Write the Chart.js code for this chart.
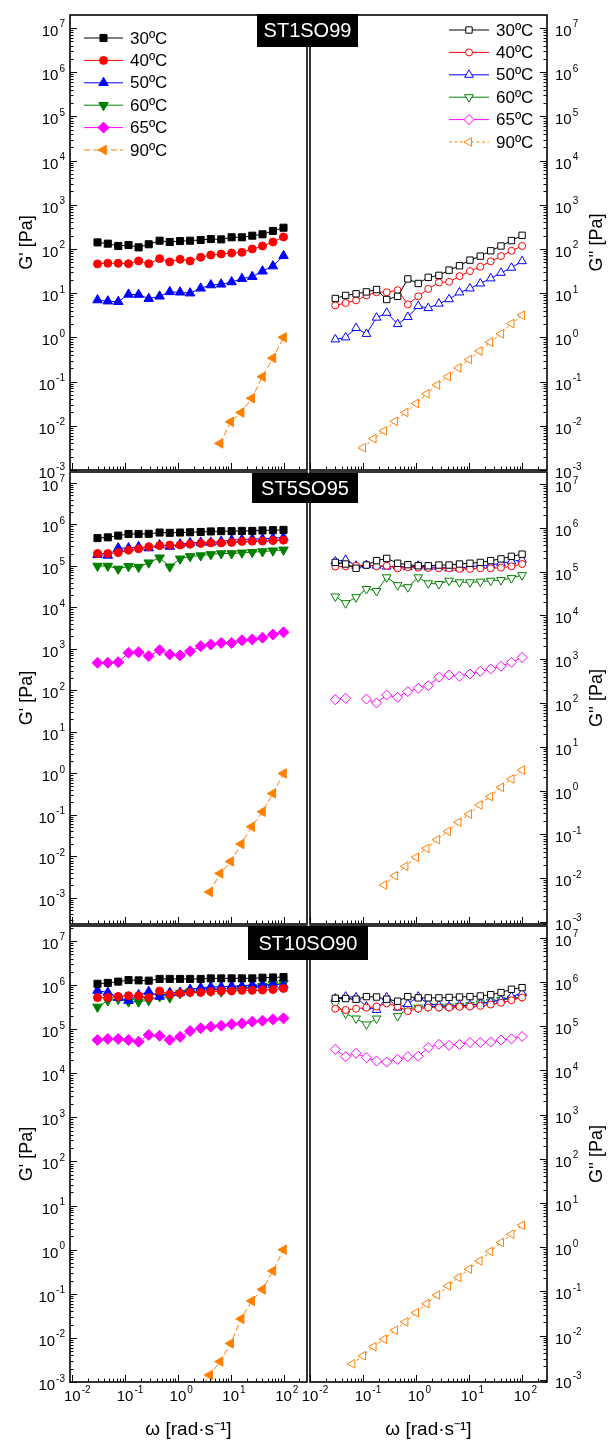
<!DOCTYPE html>
<html>
<head>
<meta charset="utf-8">
<script src="https://cdn.jsdelivr.net/npm/chart.js"></script>
<style>
  html, body { margin: 0; padding: 0; background: #fff; }
  #wrap { position: relative; width: 608px; height: 1444px; }
  #wrap canvas { position: absolute; left: 0; top: 0; }
</style>
</head>
<body>
<div id="wrap">
  <canvas id="c0" width="608" height="1444"></canvas>
  <canvas id="c1" width="608" height="1444"></canvas>
  <canvas id="c2" width="608" height="1444"></canvas>
  <canvas id="c3" width="608" height="1444"></canvas>
  <canvas id="c4" width="608" height="1444"></canvas>
  <canvas id="c5" width="608" height="1444"></canvas>
</div>
<script>
// ---- data ----
const temps = ['30ºC', '40ºC', '50ºC', '60ºC', '65ºC', '90ºC'];
const samples = ['ST1SO99', 'ST5SO95', 'ST10SO90'];

// angular frequency [rad/s]
const freq = [0.03, 0.047, 0.074, 0.116, 0.18, 0.28, 0.45, 0.7, 1.1, 1.7, 2.7, 4.2, 6.6, 10.4, 16.3, 25.6, 40, 63, 100];
const freq90 = [0.063, 0.1, 0.158, 0.25, 0.4, 0.63, 1, 1.58, 2.5, 4, 6.3, 10, 15.8, 25, 40, 63, 100];

// tick values and their labels (base 10, exponent as superscript)
const xTickVals = [1e-2, 1e-1, 1, 10, 100];
const xTickExps = ['-2', '-1', '0', '1', '2'];
const yTickVals = [1e-3, 1e-2, 1e-1, 1, 10, 100, 1e3, 1e4, 1e5, 1e6, 1e7];
const yTickExps = ['-3', '-2', '-1', '0', '1', '2', '3', '4', '5', '6', '7'];

// ST1SO99  G'
const st1Gp30 = [141, 132, 117, 123, 109, 128, 154, 144, 151, 154, 160, 168, 165, 184, 184, 200, 215, 256, 303];
const st1Gp40 = [46, 47.6, 47.6, 46.5, 53.6, 46.5, 60.5, 51, 58.5, 53.6, 65, 73, 77, 81, 84, 100, 117, 144, 187];
const st1Gp50 = [7.0, 6.6, 6.4, 9.4, 9.3, 7.5, 8.5, 10.7, 10.5, 10, 12.9, 15.3, 15.9, 17.9, 21.3, 23.6, 31.4, 41, 70];
const st1Gp90 = [null, null, null, null, null, null, null, null, null, null, 0.004, 0.0123, 0.02, 0.042, 0.129, 0.34, 1.0];
// ST1SO99  G''
const st1Gpp30 = [7.6, 8.9, 9.7, 10.7, 12.1, 7.2, 8.5, 21, 16.6, 22.8, 25.3, 33.2, 41.8, 56, 69, 91, 117, 155, 204];
const st1Gpp40 = [5.3, 6.0, 6.9, 8.9, 10.5, 10.5, 11.7, 5.6, 8.5, 12.5, 17.5, 18.1, 24.3, 31.6, 39.6, 52.6, 69, 91, 117];
const st1Gpp50 = [0.9, 1.0, 1.63, 1.2, 2.8, 3.6, 2.0, 2.9, 5.1, 4.6, 5.8, 7.3, 10.4, 12.8, 16.6, 21.6, 28.9, 37.6, 53];
const st1Gpp90 = [null, 0.0032, 0.0051, 0.0077, 0.0126, 0.020, 0.032, 0.053, 0.084, 0.13, 0.204, 0.316, 0.49, 0.78, 1.21, 2.05, 3.16];

// ST5SO95  G'
const st5Gp30 = [4.7e5, 4.9e5, 5.4e5, 5.9e5, 5.9e5, 5.96e5, 6.4e5, 6.3e5, 6.4e5, 6.5e5, 6.6e5, 6.8e5, 6.9e5, 6.9e5, 7.0e5, 7.0e5, 7.2e5, 7.3e5, 7.4e5];
const st5Gp40 = [2.0e5, 2.0e5, 2.1e5, 2.4e5, 2.6e5, 2.9e5, 3.1e5, 3.2e5, 3.2e5, 3.35e5, 3.5e5, 3.6e5, 3.6e5, 3.7e5, 3.9e5, 3.95e5, 4.0e5, 4.1e5, 4.2e5];
const st5Gp50 = [1.86e5, 1.8e5, 2.7e5, 2.7e5, 2.9e5, 2.7e5, 3.2e5, 2.95e5, 3.35e5, 3.6e5, 3.7e5, 3.7e5, 3.9e5, 4.2e5, 4.35e5, 4.5e5, 4.5e5, 4.7e5, 4.9e5];
const st5Gp60 = [1.0e5, 1.0e5, 8.5e4, 9.8e4, 9.4e4, 1.2e5, 1.58e5, 9.6e4, 1.49e5, 1.7e5, 1.78e5, 1.9e5, 2.0e5, 2.0e5, 2.08e5, 2.15e5, 2.23e5, 2.33e5, 2.45e5];
const st5Gp65 = [465, 465, 480, 810, 835, 675, 935, 740, 700, 880, 1170, 1280, 1400, 1400, 1620, 1700, 1870, 2230, 2520];
const st5Gp90 = [null, null, null, null, null, null, null, null, null, 0.0014, 0.0039, 0.0076, 0.020, 0.052, 0.12, 0.33, 1.0];
// ST5SO95  G''
const st5Gpp30 = [1.62e5, 1.49e5, 1.19e5, 1.41e5, 1.78e5, 2.0e5, 1.55e5, 1.44e5, 1.36e5, 1.36e5, 1.41e5, 1.41e5, 1.49e5, 1.55e5, 1.62e5, 1.78e5, 1.95e5, 2.23e5, 2.5e5];
const st5Gpp40 = [1.3e5, 1.32e5, 1.36e5, 1.41e5, 1.32e5, 1.36e5, 1.19e5, 1.26e5, 1.23e5, 1.21e5, 1.19e5, 1.19e5, 1.15e5, 1.15e5, 1.19e5, 1.19e5, 1.23e5, 1.32e5, 1.49e5];
const st5Gpp50 = [1.7e5, 1.86e5, 1.36e5, 1.41e5, 1.36e5, 1.3e5, 1.32e5, 1.26e5, 1.36e5, 1.26e5, 1.26e5, 1.19e5, 1.19e5, 1.3e5, 1.36e5, 1.41e5, 1.55e5, 1.7e5, 1.86e5];
const st5Gpp60 = [2.7e4, 1.9e4, 2.6e4, 4.0e4, 3.6e4, 7.4e4, 4.9e4, 4.4e4, 7.4e4, 5.4e4, 5.2e4, 6.2e4, 5.7e4, 5.7e4, 5.9e4, 6.2e4, 6.4e4, 7.1e4, 8.3e4];
const st5Gpp65 = [119, 128, null, 123, 100, 152, 135, 182, 216, 248, 387, 435, 408, 460, 530, 600, 690, 850, 1100];
const st5Gpp90 = [null, null, null, 0.007, 0.0114, 0.0187, 0.030, 0.048, 0.076, 0.117, 0.19, 0.29, 0.47, 0.73, 1.19, 1.84, 2.95];

// ST10SO90  G'
const st10Gp30 = [1.07e6, 1.12e6, 1.2e6, 1.3e6, 1.28e6, 1.26e6, 1.38e6, 1.38e6, 1.38e6, 1.38e6, 1.38e6, 1.42e6, 1.42e6, 1.42e6, 1.42e6, 1.42e6, 1.47e6, 1.49e6, 1.52e6];
const st10Gp40 = [5.2e5, 5.2e5, 5.5e5, 5.75e5, 5.75e5, 5.2e5, 7.35e5, 6.2e5, 6.5e5, 6.8e5, 6.8e5, 7.1e5, 7.35e5, 7.35e5, 7.6e5, 7.6e5, 7.7e5, 7.95e5, 8.4e5];
const st10Gp50 = [7.5e5, 6.8e5, 5.2e5, 4.45e5, 6.0e5, 7.1e5, 5.5e5, 6.7e5, 6.8e5, 7.95e5, 8.7e5, 9.1e5, 9.1e5, 9.5e5, 9.5e5, 1.0e6, 1.0e6, 1.04e6, 1.0e6];
const st10Gp60 = [3.2e5, 4.45e5, 4.8e5, 4.2e5, 4.2e5, 4.5e5, 5.5e5, 5.2e5, 6.5e5, 7.1e5, 7.35e5, 7.35e5, 7.1e5, 7.95e5, 8.4e5, 8.7e5, 9.5e5, 1.04e6, 1.1e6];
const st10Gp65 = [5.7e4, 6.0e4, 6.0e4, 5.7e4, 5.2e4, 7.4e4, 7.1e4, 5.7e4, 6.7e4, 9.1e4, 1.05e5, 1.14e5, 1.2e5, 1.29e5, 1.35e5, 1.48e5, 1.56e5, 1.67e5, 1.76e5];
const st10Gp90 = [null, null, null, null, null, null, null, null, 0.0006, 0.00144, 0.0029, 0.0075, 0.027, 0.069, 0.126, 0.33, 1.0];
// ST10SO90  G''
const st10Gpp30 = [4.3e5, 4.25e5, 4.1e5, 4.7e5, 4.6e5, 4.1e5, 3.7e5, 4.7e5, 4.4e5, 4.4e5, 4.4e5, 4.5e5, 4.6e5, 4.7e5, 4.85e5, 5.2e5, 5.8e5, 6.9e5, 7.5e5];
const st10Gpp40 = [2.5e5, 2.35e5, 2.5e5, 2.65e5, 2.8e5, 3.3e5, 2.8e5, 2.2e5, 2.5e5, 2.65e5, 2.65e5, 2.65e5, 2.75e5, 2.8e5, 2.9e5, 3.1e5, 3.4e5, 3.9e5, 4.5e5];
const st10Gpp50 = [4.25e5, 4.7e5, 4.5e5, 2.8e5, 2.35e5, 4.5e5, 2.65e5, 3.2e5, 4.7e5, 3.2e5, 3.0e5, 2.8e5, 3.0e5, 3.0e5, 3.2e5, 3.6e5, 3.9e5, 4.7e5, 5.6e5];
const st10Gpp60 = [3.25e5, 1.95e5, 1.5e5, 1.1e5, 1.5e5, null, 1.7e5, 2.5e5, 2.65e5, 2.8e5, 2.8e5, 2.8e5, 2.9e5, 3.0e5, 3.3e5, 3.6e5, 3.9e5, 4.25e5, 4.7e5];
const st10Gpp65 = [3.0e4, 2.05e4, 2.45e4, 1.95e4, 1.64e4, 1.55e4, 1.78e4, 2.05e4, 2.1e4, 3.3e4, 3.9e4, 3.7e4, 3.9e4, 4.3e4, 4.3e4, 4.4e4, 4.9e4, 5.2e4, 5.9e4];
const st10Gpp90 = [0.0023, 0.0035, 0.0056, 0.0083, 0.0132, 0.0204, 0.033, 0.053, 0.083, 0.133, 0.206, 0.32, 0.49, 0.80, 1.28, 1.97, 3.15];

// ---- styling ----
const FONT = '"Liberation Sans", Arial, sans-serif';
Chart.defaults.font.family = FONT;
Chart.defaults.color = '#000';

const markers = [
  { color: '#000000', shape: 'rect', r: 5, rot: 0 },
  { color: '#ff0000', shape: 'circle', r: 4, rot: 0 },
  { color: '#0000ff', shape: 'triangle', r: 5.5, rot: 0 },
  { color: '#008000', shape: 'triangle', r: 5.5, rot: 180 },
  { color: '#ff00ff', shape: 'rectRot', r: 5.5, rot: 0 },
  { color: '#ff8000', shape: 'triangle', r: 5.5, rot: 270 }
];

function makeSets(series, open) {
  return series.map(([xs, ys], i) => {
    const m = markers[i];
    return {
      label: temps[i],
      data: ys.map((y, k) => ({ x: xs[k], y: y })),
      borderColor: m.color,
      borderWidth: 1,
      borderDash: i === 5 ? (open ? [3, 2.5] : [6, 3]) : [],
      pointStyle: m.shape,
      pointRotation: m.rot,
      pointRadius: open ? m.r - 0.5 : m.r,
      pointBorderWidth: 1,
      pointBorderColor: m.color,
      pointBackgroundColor: open ? '#ffffff' : m.color,
      tension: 0,
      spanGaps: false
    };
  });
}

// "10" with a raised exponent; align = 'left' | 'right' | 'center' (center = centre of "10")
function powerLabel(ctx, exp, x, y, align) {
  ctx.font = '15px ' + FONT;
  const wb = ctx.measureText('10').width;
  ctx.font = '10px ' + FONT;
  const we = ctx.measureText(exp).width;
  let x0 = x;
  if (align === 'right') x0 = x - wb - we - 1;
  if (align === 'center') x0 = x - wb / 2;
  ctx.textAlign = 'left';
  ctx.textBaseline = 'alphabetic';
  ctx.font = '15px ' + FONT;
  ctx.fillText('10', x0, y + 8);
  ctx.font = '10px ' + FONT;
  ctx.fillText(exp, x0 + wb + 1, y - 0.5);
}

// frame, inward ticks, tick labels, legend, sample label, right-hand title
const deco = {
  id: 'deco',
  afterDraw(chart, args, o) {
    const { ctx, chartArea: a } = chart;
    const xs = chart.scales.x, ys = chart.scales.y;
    const left = o.side === 'left';
    ctx.save();
    ctx.strokeStyle = '#000';
    ctx.lineWidth = 1;
    ctx.beginPath();
    for (let d = -4; d <= 7; d++) {
      for (let k = 1; k <= 9; k++) {
        const v = k * Math.pow(10, d);
        const len = k === 1 ? 7 : 3.5;
        if (v >= ys.min && v <= ys.max) {
          const py = Math.round(ys.getPixelForValue(v)) + 0.5;
          const x0 = left ? a.left : a.right;
          ctx.moveTo(x0, py);
          ctx.lineTo(left ? x0 + len : x0 - len, py);
        }
        if (v >= xs.min && v <= xs.max) {
          const px = Math.round(xs.getPixelForValue(v)) + 0.5;
          ctx.moveTo(px, a.bottom);
          ctx.lineTo(px, a.bottom - len);
        }
      }
    }
    ctx.stroke();
    ctx.lineWidth = 1.6;
    ctx.strokeRect(a.left, a.top, a.right - a.left, a.bottom - a.top);

    // tick labels
    ctx.fillStyle = '#000';
    yTickVals.forEach((v, i) => {
      const py = ys.getPixelForValue(v);
      if (left) powerLabel(ctx, yTickExps[i], a.left - 5, py, 'right');
      else powerLabel(ctx, yTickExps[i], a.right + 8, py, 'left');
    });
    if (o.showX) {
      xTickVals.forEach((v, i) => {
        powerLabel(ctx, xTickExps[i], xs.getPixelForValue(v), a.bottom + 11, 'center');
      });
    }

    if (o.legend) {
      const L = o.legend;
      chart.data.datasets.forEach((ds, i) => {
        const y = L.y + i * L.dy;
        ctx.strokeStyle = ds.borderColor;
        ctx.lineWidth = 1;
        ctx.setLineDash(ds.borderDash);
        ctx.beginPath();
        ctx.moveTo(L.x, y);
        ctx.lineTo(L.x + L.len, y);
        ctx.stroke();
        ctx.setLineDash([]);
        ctx.fillStyle = ds.pointBackgroundColor;
        ctx.strokeStyle = ds.pointBorderColor;
        Chart.helpers.drawPoint(ctx, { pointStyle: ds.pointStyle, rotation: ds.pointRotation, radius: ds.pointRadius, borderWidth: 1 }, L.x + L.len / 2, y);
        ctx.fillStyle = '#000';
        ctx.font = '17px ' + FONT;
        ctx.textAlign = 'left';
        ctx.textBaseline = 'middle';
        ctx.fillText(ds.label, L.x + L.len + 7, y + 1);
      });
    }

    if (o.label) {
      const b = o.label;
      ctx.fillStyle = '#000';
      ctx.fillRect(b.x, b.y, b.w, b.h);
      ctx.fillStyle = '#fff';
      ctx.font = '20px ' + FONT;
      ctx.textAlign = 'center';
      ctx.textBaseline = 'middle';
      ctx.fillText(b.text, b.x + b.w / 2, b.y + b.h / 2 + 1);
    }

    if (o.rtitle) {
      ctx.translate(597, (a.top + a.bottom) / 2);
      ctx.rotate(-Math.PI / 2);
      ctx.fillStyle = '#000';
      ctx.font = '18px ' + FONT;
      ctx.textAlign = 'center';
      ctx.textBaseline = 'middle';
      ctx.fillText(o.rtitle, 0, 0);
    }
    ctx.restore();
  }
};

function makePanel(p) {
  const left = p.side === 'left';
  const xh = p.showX ? 62 : 0;
  const xLog = left ? [-2.044, 2.445] : [-2.0, 2.47];
  return new Chart(document.getElementById(p.id), {
    type: 'line',
    data: { datasets: makeSets(p.series, !left) },
    options: {
      responsive: false,
      animation: false,
      devicePixelRatio: 1,
      layout: {
        padding: {
          left: left ? 0 : 310,
          right: left ? 301 : 0,
          top: p.top,
          bottom: 1444 - p.bottom - xh
        }
      },
      plugins: {
        legend: { display: false },
        tooltip: { enabled: false },
        deco: { side: p.side, showX: p.showX, legend: p.legend, label: p.label, rtitle: left ? null : "G'' [Pa]" }
      },
      scales: {
        x: {
          type: 'logarithmic',
          position: 'bottom',
          min: Math.pow(10, xLog[0]),
          max: Math.pow(10, xLog[1]),
          grid: { display: false },
          border: { display: false },
          afterBuildTicks: s => { s.ticks = xTickVals.map(v => ({ value: v })); },
          afterFit: s => { s.height = xh; },
          ticks: { display: false },
          title: {
            display: p.showX,
            text: 'ω [rad·s⁻¹]',
            font: { size: 19 },
            padding: { top: 0, bottom: 3 }
          }
        },
        y: {
          type: 'logarithmic',
          position: p.side,
          min: Math.pow(10, p.yLog[0]),
          max: Math.pow(10, p.yLog[1]),
          grid: { display: false },
          border: { display: false },
          afterBuildTicks: s => { s.ticks = yTickVals.map(v => ({ value: v })); },
          afterFit: s => { s.width = left ? 70 : 61; },
          ticks: { display: false },
          title: {
            display: left,
            text: "G' [Pa]",
            font: { size: 18 },
            padding: { top: 16, bottom: 0 }
          }
        }
      }
    },
    plugins: [deco]
  });
}

const legendLeft = { x: 84, y: 38, dy: 22.4, len: 39 };
const legendRight = { x: 449, y: 30, dy: 22.4, len: 40 };

makePanel({
  id: 'c0', side: 'left', top: 15, bottom: 470, yLog: [-3.0, 7.294], showX: false, legend: legendLeft,
  series: [[freq, st1Gp30], [freq, st1Gp40], [freq, st1Gp50], [freq, []], [freq, []], [freq90, st1Gp90]]
});
makePanel({
  id: 'c1', side: 'right', top: 15, bottom: 470, yLog: [-3.0, 7.294], showX: false, legend: legendRight,
  label: { text: samples[0], x: 257, y: 14, w: 101, h: 33 },
  series: [[freq, st1Gpp30], [freq, st1Gpp40], [freq, st1Gpp50], [freq, []], [freq, []], [freq90, st1Gpp90]]
});
makePanel({
  id: 'c2', side: 'left', top: 472, bottom: 924, yLog: [-3.627, 7.265], showX: false,
  series: [[freq, st5Gp30], [freq, st5Gp40], [freq, st5Gp50], [freq, st5Gp60], [freq, st5Gp65], [freq90, st5Gp90]]
});
makePanel({
  id: 'c3', side: 'right', top: 472, bottom: 924, yLog: [-3.046, 7.274], showX: false,
  label: { text: samples[1], x: 252, y: 473, w: 106, h: 30 },
  series: [[freq, st5Gpp30], [freq, st5Gpp40], [freq, st5Gpp50], [freq, st5Gpp60], [freq, st5Gpp65], [freq90, st5Gpp90]]
});
makePanel({
  id: 'c4', side: 'left', top: 926, bottom: 1382, yLog: [-3.0, 7.34], showX: true,
  series: [[freq, st10Gp30], [freq, st10Gp40], [freq, st10Gp50], [freq, st10Gp60], [freq, st10Gp65], [freq90, st10Gp90]]
});
makePanel({
  id: 'c5', side: 'right', top: 926, bottom: 1382, yLog: [-3.05, 7.27], showX: true,
  label: { text: samples[2], x: 248, y: 926, w: 120, h: 34 },
  series: [[freq, st10Gpp30], [freq, st10Gpp40], [freq, st10Gpp50], [freq, st10Gpp60], [freq, st10Gpp65], [freq90, st10Gpp90]]
});
</script>
</body>
</html>
